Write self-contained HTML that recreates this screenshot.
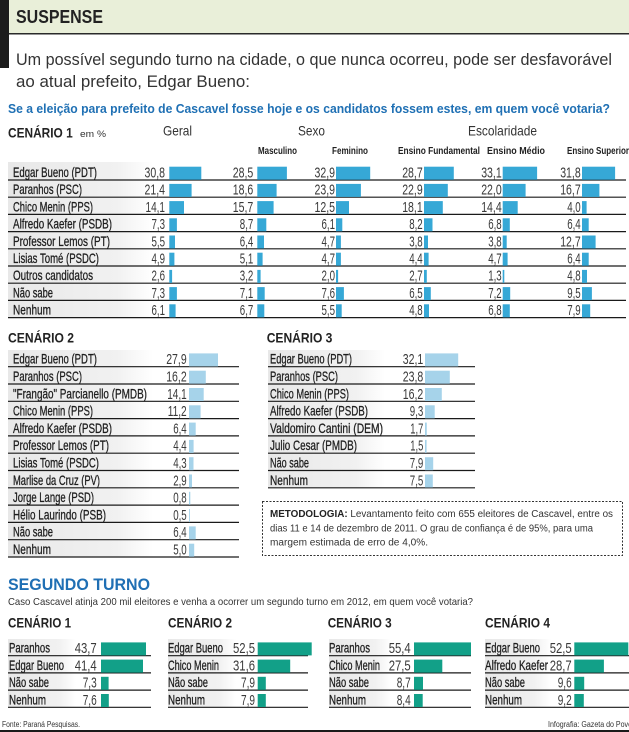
<!DOCTYPE html>
<html><head><meta charset="utf-8">
<style>
html,body{margin:0;padding:0;background:#fff;}
svg{display:block;}
text{font-family:"Liberation Sans",Arial,sans-serif;}
.lb{font-size:14px;fill:#1e1e1e;stroke:#1e1e1e;stroke-width:0.3px;}
.lt{font-size:14px;fill:#1e1e1e;stroke:#1e1e1e;stroke-width:0.3px;}
.nm{font-size:15px;fill:#3a3a3a;text-anchor:end;}
.hd{font-size:14px;font-weight:bold;fill:#222;}
.sh{font-size:10px;font-weight:bold;fill:#222;}
.b1{fill:#36a8d6;}
.b2{fill:#a6d3ea;}
.b3{fill:#12a088;}
</style></head>
<body>
<svg width="629" height="732" viewBox="0 0 629 732" xmlns="http://www.w3.org/2000/svg">
<defs>
<linearGradient id="gl" x1="0" x2="1" y1="0" y2="0">
<stop offset="0" stop-color="#e8e8e8"/><stop offset="0.75" stop-color="#f1f1f1"/><stop offset="1" stop-color="#ffffff"/>
</linearGradient>
</defs>
<!-- Header -->
<rect x="0" y="0" width="629" height="33" fill="#e9efd9"/>
<rect x="0" y="33" width="629" height="1.5" fill="#2a2a2a"/>
<rect x="0" y="0" width="9" height="68" fill="#1c1c1c"/>
<text x="16" y="23" font-size="18" font-weight="bold" fill="#222" textLength="87" lengthAdjust="spacingAndGlyphs">SUSPENSE</text>
<text x="16" y="65" font-size="17" fill="#333" textLength="596" lengthAdjust="spacingAndGlyphs">Um possível segundo turno na cidade, o que nunca ocorreu, pode ser desfavorável</text>
<text x="16" y="87" font-size="17" fill="#333" textLength="234" lengthAdjust="spacingAndGlyphs">ao atual prefeito, Edgar Bueno:</text>
<text x="8" y="113" font-size="13" font-weight="bold" fill="#1f70b4" textLength="602" lengthAdjust="spacingAndGlyphs">Se a eleição para prefeito de Cascavel fosse hoje e os candidatos fossem estes, em quem você votaria?</text>

<!-- Cenario 1 header -->
<text x="8" y="137.3" class="hd" textLength="64.7" lengthAdjust="spacingAndGlyphs">CENÁRIO 1</text>
<text x="80" y="137" font-size="9" fill="#333" textLength="26" lengthAdjust="spacingAndGlyphs">em %</text>
<text x="163" y="135.7" font-size="14" fill="#333" textLength="29" lengthAdjust="spacingAndGlyphs">Geral</text>
<text x="298" y="135.3" font-size="14" fill="#333" textLength="27" lengthAdjust="spacingAndGlyphs">Sexo</text>
<text x="468" y="135.3" font-size="14" fill="#333" textLength="69" lengthAdjust="spacingAndGlyphs">Escolaridade</text>
<text x="258" y="154" class="sh" textLength="39" lengthAdjust="spacingAndGlyphs">Masculino</text>
<text x="332" y="154" class="sh" textLength="36" lengthAdjust="spacingAndGlyphs">Feminino</text>
<text x="398" y="154" class="sh" textLength="82" lengthAdjust="spacingAndGlyphs">Ensino Fundamental</text>
<text x="487" y="154" class="sh" textLength="58" lengthAdjust="spacingAndGlyphs">Ensino Médio</text>
<text x="567" y="154" class="sh" textLength="62" lengthAdjust="spacingAndGlyphs">Ensino Superior</text>

<!-- Cenario 1 table -->
<rect x="8" y="162" width="145" height="156" fill="url(#gl)"/>
<path d="M8 180H626M8 197.2H626M8 214.4H626M8 231.6H626M8 248.8H626M8 266H626M8 283.2H626M8 300.4H626M8 317.6H626" stroke="#1a1a1a" stroke-width="1.2" fill="none"/>
<text x="13" y="177" class="lb" textLength="84" lengthAdjust="spacingAndGlyphs">Edgar Bueno (PDT)</text>
<text x="13" y="194.2" class="lb" textLength="69" lengthAdjust="spacingAndGlyphs">Paranhos (PSC)</text>
<text x="13" y="211.4" class="lb" textLength="80" lengthAdjust="spacingAndGlyphs">Chico Menin (PPS)</text>
<text x="13" y="228.6" class="lb" textLength="99" lengthAdjust="spacingAndGlyphs">Alfredo Kaefer (PSDB)</text>
<text x="13" y="245.8" class="lb" textLength="97" lengthAdjust="spacingAndGlyphs">Professor Lemos (PT)</text>
<text x="13" y="263" class="lb" textLength="86" lengthAdjust="spacingAndGlyphs">Lisias Tomé (PSDC)</text>
<text x="13" y="280.2" class="lb" textLength="80" lengthAdjust="spacingAndGlyphs">Outros candidatos</text>
<text x="13" y="297.4" class="lb" textLength="40" lengthAdjust="spacingAndGlyphs">Não sabe</text>
<text x="13" y="314.6" class="lb" textLength="38" lengthAdjust="spacingAndGlyphs">Nenhum</text>

<!-- Geral col: end 165, bar 169.3 -->
<g>
<text x="165" y="177.5" class="nm" textLength="20.5" lengthAdjust="spacingAndGlyphs">30,8</text><rect class="b1" x="169.3" y="166.7" width="32" height="13"/>
<text x="165" y="194.7" class="nm" textLength="20.5" lengthAdjust="spacingAndGlyphs">21,4</text><rect class="b1" x="169.3" y="183.9" width="22.3" height="13"/>
<text x="165" y="211.9" class="nm" textLength="19.5" lengthAdjust="spacingAndGlyphs">14,1</text><rect class="b1" x="169.3" y="201.1" width="14.7" height="13"/>
<text x="165" y="229.1" class="nm" textLength="13.5" lengthAdjust="spacingAndGlyphs">7,3</text><rect class="b1" x="169.3" y="218.3" width="7.6" height="13"/>
<text x="165" y="246.3" class="nm" textLength="13.5" lengthAdjust="spacingAndGlyphs">5,5</text><rect class="b1" x="169.3" y="235.5" width="5.7" height="13"/>
<text x="165" y="263.5" class="nm" textLength="13.5" lengthAdjust="spacingAndGlyphs">4,9</text><rect class="b1" x="169.3" y="252.7" width="5.1" height="13"/>
<text x="165" y="280.7" class="nm" textLength="13.5" lengthAdjust="spacingAndGlyphs">2,6</text><rect class="b1" x="169.3" y="269.9" width="2.8" height="13"/>
<text x="165" y="297.9" class="nm" textLength="13.5" lengthAdjust="spacingAndGlyphs">7,3</text><rect class="b1" x="169.3" y="287.1" width="7.6" height="13"/>
<text x="165" y="315.1" class="nm" textLength="13.5" lengthAdjust="spacingAndGlyphs">6,1</text><rect class="b1" x="169.3" y="304.3" width="6.3" height="13"/>
</g>
<!-- Masc: end 253.3, bar 257.3 -->
<g>
<text x="253.3" y="177.5" class="nm" textLength="20.5" lengthAdjust="spacingAndGlyphs">28,5</text><rect class="b1" x="257.3" y="166.7" width="29.6" height="13"/>
<text x="253.3" y="194.7" class="nm" textLength="20.5" lengthAdjust="spacingAndGlyphs">18,6</text><rect class="b1" x="257.3" y="183.9" width="19.3" height="13"/>
<text x="253.3" y="211.9" class="nm" textLength="20.5" lengthAdjust="spacingAndGlyphs">15,7</text><rect class="b1" x="257.3" y="201.1" width="16.3" height="13"/>
<text x="253.3" y="229.1" class="nm" textLength="13.5" lengthAdjust="spacingAndGlyphs">8,7</text><rect class="b1" x="257.3" y="218.3" width="9" height="13"/>
<text x="253.3" y="246.3" class="nm" textLength="13.5" lengthAdjust="spacingAndGlyphs">6,4</text><rect class="b1" x="257.3" y="235.5" width="6.7" height="13"/>
<text x="253.3" y="263.5" class="nm" textLength="13.5" lengthAdjust="spacingAndGlyphs">5,1</text><rect class="b1" x="257.3" y="252.7" width="5.3" height="13"/>
<text x="253.3" y="280.7" class="nm" textLength="13.5" lengthAdjust="spacingAndGlyphs">3,2</text><rect class="b1" x="257.3" y="269.9" width="3.3" height="13"/>
<text x="253.3" y="297.9" class="nm" textLength="13.5" lengthAdjust="spacingAndGlyphs">7,1</text><rect class="b1" x="257.3" y="287.1" width="7.4" height="13"/>
<text x="253.3" y="315.1" class="nm" textLength="13.5" lengthAdjust="spacingAndGlyphs">6,7</text><rect class="b1" x="257.3" y="304.3" width="7" height="13"/>
</g>
<!-- Fem: end 335, bar 336 -->
<g>
<text x="335" y="177.5" class="nm" textLength="20.5" lengthAdjust="spacingAndGlyphs">32,9</text><rect class="b1" x="336" y="166.7" width="34.2" height="13"/>
<text x="335" y="194.7" class="nm" textLength="20.5" lengthAdjust="spacingAndGlyphs">23,9</text><rect class="b1" x="336" y="183.9" width="24.9" height="13"/>
<text x="335" y="211.9" class="nm" textLength="20.5" lengthAdjust="spacingAndGlyphs">12,5</text><rect class="b1" x="336" y="201.1" width="13" height="13"/>
<text x="335" y="229.1" class="nm" textLength="13.5" lengthAdjust="spacingAndGlyphs">6,1</text><rect class="b1" x="336" y="218.3" width="6.3" height="13"/>
<text x="335" y="246.3" class="nm" textLength="13.5" lengthAdjust="spacingAndGlyphs">4,7</text><rect class="b1" x="336" y="235.5" width="4.9" height="13"/>
<text x="335" y="263.5" class="nm" textLength="13.5" lengthAdjust="spacingAndGlyphs">4,7</text><rect class="b1" x="336" y="252.7" width="4.9" height="13"/>
<text x="335" y="280.7" class="nm" textLength="13.5" lengthAdjust="spacingAndGlyphs">2,0</text><rect class="b1" x="336" y="269.9" width="2.1" height="13"/>
<text x="335" y="297.9" class="nm" textLength="13.5" lengthAdjust="spacingAndGlyphs">7,6</text><rect class="b1" x="336" y="287.1" width="7.9" height="13"/>
<text x="335" y="315.1" class="nm" textLength="13.5" lengthAdjust="spacingAndGlyphs">5,5</text><rect class="b1" x="336" y="304.3" width="5.7" height="13"/>
</g>
<!-- EF: end 422.7, bar 424 -->
<g>
<text x="422.7" y="177.5" class="nm" textLength="20.5" lengthAdjust="spacingAndGlyphs">28,7</text><rect class="b1" x="424" y="166.7" width="29.8" height="13"/>
<text x="422.7" y="194.7" class="nm" textLength="20.5" lengthAdjust="spacingAndGlyphs">22,9</text><rect class="b1" x="424" y="183.9" width="23.8" height="13"/>
<text x="422.7" y="211.9" class="nm" textLength="20.5" lengthAdjust="spacingAndGlyphs">18,1</text><rect class="b1" x="424" y="201.1" width="18.8" height="13"/>
<text x="422.7" y="229.1" class="nm" textLength="13.5" lengthAdjust="spacingAndGlyphs">8,2</text><rect class="b1" x="424" y="218.3" width="8.5" height="13"/>
<text x="422.7" y="246.3" class="nm" textLength="13.5" lengthAdjust="spacingAndGlyphs">3,8</text><rect class="b1" x="424" y="235.5" width="4" height="13"/>
<text x="422.7" y="263.5" class="nm" textLength="13.5" lengthAdjust="spacingAndGlyphs">4,4</text><rect class="b1" x="424" y="252.7" width="4.6" height="13"/>
<text x="422.7" y="280.7" class="nm" textLength="13.5" lengthAdjust="spacingAndGlyphs">2,7</text><rect class="b1" x="424" y="269.9" width="2.8" height="13"/>
<text x="422.7" y="297.9" class="nm" textLength="13.5" lengthAdjust="spacingAndGlyphs">6,5</text><rect class="b1" x="424" y="287.1" width="6.8" height="13"/>
<text x="422.7" y="315.1" class="nm" textLength="13.5" lengthAdjust="spacingAndGlyphs">4,8</text><rect class="b1" x="424" y="304.3" width="5" height="13"/>
</g>
<!-- EM: end 501.7, bar 502.7 -->
<g>
<text x="501.7" y="177.5" class="nm" textLength="20.5" lengthAdjust="spacingAndGlyphs">33,1</text><rect class="b1" x="502.7" y="166.7" width="34.4" height="13"/>
<text x="501.7" y="194.7" class="nm" textLength="20.5" lengthAdjust="spacingAndGlyphs">22,0</text><rect class="b1" x="502.7" y="183.9" width="22.9" height="13"/>
<text x="501.7" y="211.9" class="nm" textLength="20.5" lengthAdjust="spacingAndGlyphs">14,4</text><rect class="b1" x="502.7" y="201.1" width="15" height="13"/>
<text x="501.7" y="229.1" class="nm" textLength="13.5" lengthAdjust="spacingAndGlyphs">6,8</text><rect class="b1" x="502.7" y="218.3" width="7.1" height="13"/>
<text x="501.7" y="246.3" class="nm" textLength="13.5" lengthAdjust="spacingAndGlyphs">3,8</text><rect class="b1" x="502.7" y="235.5" width="4" height="13"/>
<text x="501.7" y="263.5" class="nm" textLength="13.5" lengthAdjust="spacingAndGlyphs">4,7</text><rect class="b1" x="502.7" y="252.7" width="4.9" height="13"/>
<text x="501.7" y="280.7" class="nm" textLength="13.5" lengthAdjust="spacingAndGlyphs">1,3</text><rect class="b1" x="502.7" y="269.9" width="1.6" height="13"/>
<text x="501.7" y="297.9" class="nm" textLength="13.5" lengthAdjust="spacingAndGlyphs">7,2</text><rect class="b1" x="502.7" y="287.1" width="7.5" height="13"/>
<text x="501.7" y="315.1" class="nm" textLength="13.5" lengthAdjust="spacingAndGlyphs">6,8</text><rect class="b1" x="502.7" y="304.3" width="7.1" height="13"/>
</g>
<!-- ES: end 580.7, bar 582 -->
<g>
<text x="580.7" y="177.5" class="nm" textLength="20.5" lengthAdjust="spacingAndGlyphs">31,8</text><rect class="b1" x="582" y="166.7" width="33.1" height="13"/>
<text x="580.7" y="194.7" class="nm" textLength="20.5" lengthAdjust="spacingAndGlyphs">16,7</text><rect class="b1" x="582" y="183.9" width="17.4" height="13"/>
<text x="580.7" y="211.9" class="nm" textLength="13.5" lengthAdjust="spacingAndGlyphs">4,0</text><rect class="b1" x="582" y="201.1" width="4.6" height="13"/>
<text x="580.7" y="229.1" class="nm" textLength="13.5" lengthAdjust="spacingAndGlyphs">6,4</text><rect class="b1" x="582" y="218.3" width="6.7" height="13"/>
<text x="580.7" y="246.3" class="nm" textLength="20.5" lengthAdjust="spacingAndGlyphs">12,7</text><rect class="b1" x="582" y="235.5" width="13.6" height="13"/>
<text x="580.7" y="263.5" class="nm" textLength="13.5" lengthAdjust="spacingAndGlyphs">6,4</text><rect class="b1" x="582" y="252.7" width="6.7" height="13"/>
<text x="580.7" y="280.7" class="nm" textLength="13.5" lengthAdjust="spacingAndGlyphs">4,8</text><rect class="b1" x="582" y="269.9" width="5" height="13"/>
<text x="580.7" y="297.9" class="nm" textLength="13.5" lengthAdjust="spacingAndGlyphs">9,5</text><rect class="b1" x="582" y="287.1" width="9.9" height="13"/>
<text x="580.7" y="315.1" class="nm" textLength="13.5" lengthAdjust="spacingAndGlyphs">7,9</text><rect class="b1" x="582" y="304.3" width="8.2" height="13"/>
</g>

<!-- Cenario 2 -->
<text x="8" y="342.7" class="hd" textLength="66" lengthAdjust="spacingAndGlyphs">CENÁRIO 2</text>
<rect x="8" y="350" width="145" height="207" fill="url(#gl)"/>
<path d="M8 366.7H239M8 384H239M8 401.3H239M8 418.6H239M8 435.9H239M8 453.2H239M8 470.5H239M8 487.8H239M8 505.1H239M8 522.4H239M8 539.7H239M8 557H239" stroke="#1a1a1a" stroke-width="1.2" fill="none"/>
<text x="13" y="363.7" class="lb" textLength="84" lengthAdjust="spacingAndGlyphs">Edgar Bueno (PDT)</text>
<text x="13" y="381" class="lb" textLength="69" lengthAdjust="spacingAndGlyphs">Paranhos (PSC)</text>
<text x="13" y="398.3" class="lb" textLength="134" lengthAdjust="spacingAndGlyphs">"Frangão" Parcianello (PMDB)</text>
<text x="13" y="415.6" class="lb" textLength="80" lengthAdjust="spacingAndGlyphs">Chico Menin (PPS)</text>
<text x="13" y="432.9" class="lb" textLength="99" lengthAdjust="spacingAndGlyphs">Alfredo Kaefer (PSDB)</text>
<text x="13" y="450.2" class="lb" textLength="96" lengthAdjust="spacingAndGlyphs">Professor Lemos (PT)</text>
<text x="13" y="467.5" class="lb" textLength="86" lengthAdjust="spacingAndGlyphs">Lisias Tomé (PSDC)</text>
<text x="13" y="484.8" class="lb" textLength="87" lengthAdjust="spacingAndGlyphs">Marlise da Cruz (PV)</text>
<text x="13" y="502.1" class="lb" textLength="81" lengthAdjust="spacingAndGlyphs">Jorge Lange (PSD)</text>
<text x="13" y="519.4" class="lb" textLength="93" lengthAdjust="spacingAndGlyphs">Hélio Laurindo (PSB)</text>
<text x="13" y="536.7" class="lb" textLength="40" lengthAdjust="spacingAndGlyphs">Não sabe</text>
<text x="13" y="554" class="lb" textLength="38" lengthAdjust="spacingAndGlyphs">Nenhum</text>
<g>
<text x="186.7" y="364.2" class="nm" textLength="20.5" lengthAdjust="spacingAndGlyphs">27,9</text><rect class="b2" x="189" y="353.4" width="29" height="13"/>
<text x="186.7" y="381.5" class="nm" textLength="20.5" lengthAdjust="spacingAndGlyphs">16,2</text><rect class="b2" x="189" y="370.7" width="16.8" height="13"/>
<text x="186.7" y="398.8" class="nm" textLength="19.5" lengthAdjust="spacingAndGlyphs">14,1</text><rect class="b2" x="189" y="388" width="14.7" height="13"/>
<text x="186.7" y="416.1" class="nm" textLength="19" lengthAdjust="spacingAndGlyphs">11,2</text><rect class="b2" x="189" y="405.3" width="11.6" height="13"/>
<text x="186.7" y="433.4" class="nm" textLength="13.5" lengthAdjust="spacingAndGlyphs">6,4</text><rect class="b2" x="189" y="422.6" width="6.7" height="13"/>
<text x="186.7" y="450.7" class="nm" textLength="13.5" lengthAdjust="spacingAndGlyphs">4,4</text><rect class="b2" x="189" y="439.9" width="4.6" height="13"/>
<text x="186.7" y="468" class="nm" textLength="13.5" lengthAdjust="spacingAndGlyphs">4,3</text><rect class="b2" x="189" y="457.2" width="4.5" height="13"/>
<text x="186.7" y="485.3" class="nm" textLength="13.5" lengthAdjust="spacingAndGlyphs">2,9</text><rect class="b2" x="189" y="474.5" width="3" height="13"/>
<text x="186.7" y="502.6" class="nm" textLength="13.5" lengthAdjust="spacingAndGlyphs">0,8</text><rect class="b2" x="189" y="491.8" width="1.3" height="13"/>
<text x="186.7" y="519.9" class="nm" textLength="13.5" lengthAdjust="spacingAndGlyphs">0,5</text><rect class="b2" x="189" y="509.1" width="0.9" height="13"/>
<text x="186.7" y="537.2" class="nm" textLength="13.5" lengthAdjust="spacingAndGlyphs">6,4</text><rect class="b2" x="189" y="526.4" width="6.7" height="13"/>
<text x="186.7" y="554.5" class="nm" textLength="13.5" lengthAdjust="spacingAndGlyphs">5,0</text><rect class="b2" x="189" y="543.7" width="5.2" height="13"/>
</g>

<!-- Cenario 3 -->
<text x="266.7" y="342.7" class="hd" textLength="65.7" lengthAdjust="spacingAndGlyphs">CENÁRIO 3</text>
<rect x="268" y="350" width="117" height="138" fill="url(#gl)"/>
<path d="M268 366.7H475M268 384H475M268 401.3H475M268 418.6H475M268 435.9H475M268 453.2H475M268 470.5H475M268 487.8H475" stroke="#1a1a1a" stroke-width="1.2" fill="none"/>
<text x="270" y="363.7" class="lb" textLength="82" lengthAdjust="spacingAndGlyphs">Edgar Bueno (PDT)</text>
<text x="270" y="381" class="lb" textLength="68" lengthAdjust="spacingAndGlyphs">Paranhos (PSC)</text>
<text x="270" y="398.3" class="lb" textLength="79" lengthAdjust="spacingAndGlyphs">Chico Menin (PPS)</text>
<text x="270" y="415.6" class="lb" textLength="98" lengthAdjust="spacingAndGlyphs">Alfredo Kaefer (PSDB)</text>
<text x="270" y="432.9" class="lb" textLength="113" lengthAdjust="spacingAndGlyphs">Valdomiro Cantini (DEM)</text>
<text x="270" y="450.2" class="lb" textLength="87" lengthAdjust="spacingAndGlyphs">Julio Cesar (PMDB)</text>
<text x="270" y="467.5" class="lb" textLength="39" lengthAdjust="spacingAndGlyphs">Não sabe</text>
<text x="270" y="484.8" class="lb" textLength="38" lengthAdjust="spacingAndGlyphs">Nenhum</text>
<g>
<text x="423.3" y="364.2" class="nm" textLength="20.5" lengthAdjust="spacingAndGlyphs">32,1</text><rect class="b2" x="425" y="353.4" width="33.2" height="13"/>
<text x="423.3" y="381.5" class="nm" textLength="20.5" lengthAdjust="spacingAndGlyphs">23,8</text><rect class="b2" x="425" y="370.7" width="24.8" height="13"/>
<text x="423.3" y="398.8" class="nm" textLength="20.5" lengthAdjust="spacingAndGlyphs">16,2</text><rect class="b2" x="425" y="388" width="16.8" height="13"/>
<text x="423.3" y="416.1" class="nm" textLength="13.5" lengthAdjust="spacingAndGlyphs">9,3</text><rect class="b2" x="425" y="405.3" width="9.7" height="13"/>
<text x="423.3" y="433.4" class="nm" textLength="13" lengthAdjust="spacingAndGlyphs">1,7</text><rect class="b2" x="425" y="422.6" width="1.8" height="13"/>
<text x="423.3" y="450.7" class="nm" textLength="13" lengthAdjust="spacingAndGlyphs">1,5</text><rect class="b2" x="425" y="439.9" width="1.6" height="13"/>
<text x="423.3" y="468" class="nm" textLength="13.5" lengthAdjust="spacingAndGlyphs">7,9</text><rect class="b2" x="425" y="457.2" width="8.2" height="13"/>
<text x="423.3" y="485.3" class="nm" textLength="13.5" lengthAdjust="spacingAndGlyphs">7,5</text><rect class="b2" x="425" y="474.5" width="7.8" height="13"/>
</g>

<!-- Metodologia -->
<rect x="262.5" y="501.5" width="360" height="54" fill="none" stroke="#333" stroke-width="1" stroke-dasharray="2,1.5"/>
<text x="270" y="517" font-size="10" fill="#333" textLength="343" lengthAdjust="spacingAndGlyphs"><tspan font-weight="bold" fill="#222">METODOLOGIA:</tspan> Levantamento feito com 655 eleitores de Cascavel, entre os</text>
<text x="270" y="531.5" font-size="10" fill="#333" textLength="323" lengthAdjust="spacingAndGlyphs">dias 11 e 14 de dezembro de 2011. O grau de confiança é de 95%, para uma</text>
<text x="270" y="545.5" font-size="10" fill="#333" textLength="158" lengthAdjust="spacingAndGlyphs">margem estimada de erro de 4,0%.</text>

<!-- Segundo turno -->
<text x="8" y="590" font-size="17" font-weight="bold" fill="#1f6fb4" textLength="142" lengthAdjust="spacingAndGlyphs">SEGUNDO TURNO</text>
<text x="8" y="605" font-size="10.5" fill="#333" textLength="465" lengthAdjust="spacingAndGlyphs">Caso Cascavel atinja 200 mil eleitores e venha a ocorrer um segundo turno em 2012, em quem você votaria?</text>
<text x="8" y="627.7" class="hd" font-size="13.5" textLength="63" lengthAdjust="spacingAndGlyphs">CENÁRIO 1</text>
<text x="168" y="627.7" class="hd" font-size="13.5" textLength="64" lengthAdjust="spacingAndGlyphs">CENÁRIO 2</text>
<text x="327.7" y="627.7" class="hd" font-size="13.5" textLength="64" lengthAdjust="spacingAndGlyphs">CENÁRIO 3</text>
<text x="485" y="627.7" class="hd" font-size="13.5" textLength="65" lengthAdjust="spacingAndGlyphs">CENÁRIO 4</text>

<rect x="8" y="639" width="68" height="68" fill="url(#gl)"/>
<rect x="168" y="639" width="68" height="68" fill="url(#gl)"/>
<rect x="329" y="639" width="62" height="68" fill="url(#gl)"/>
<rect x="485" y="639" width="66" height="68" fill="url(#gl)"/>
<path d="M8 655.7H151M8 672.9H151M8 690.1H151M8 707.3H151M168 655.7H308M168 672.9H308M168 690.1H308M168 707.3H308M329 655.7H471M329 672.9H471M329 690.1H471M329 707.3H471M485 655.7H629M485 672.9H629M485 690.1H629M485 707.3H629" stroke="#1a1a1a" stroke-width="1.2" fill="none"/>

<!-- T C1 -->
<text x="9" y="652.7" class="lt" textLength="41" lengthAdjust="spacingAndGlyphs">Paranhos</text>
<text x="9" y="669.9" class="lt" textLength="55" lengthAdjust="spacingAndGlyphs">Edgar Bueno</text>
<text x="9" y="687.1" class="lt" textLength="40" lengthAdjust="spacingAndGlyphs">Não sabe</text>
<text x="9" y="704.3" class="lt" textLength="37" lengthAdjust="spacingAndGlyphs">Nenhum</text>
<text x="96.7" y="653.2" class="nm" textLength="22" lengthAdjust="spacingAndGlyphs">43,7</text><rect class="b3" x="101" y="642.4" width="45" height="13"/>
<text x="96.7" y="670.4" class="nm" textLength="22" lengthAdjust="spacingAndGlyphs">41,4</text><rect class="b3" x="101" y="659.6" width="42" height="13"/>
<text x="96.7" y="687.6" class="nm" textLength="14" lengthAdjust="spacingAndGlyphs">7,3</text><rect class="b3" x="101" y="676.8" width="7.6" height="13"/>
<text x="96.7" y="704.8" class="nm" textLength="14" lengthAdjust="spacingAndGlyphs">7,6</text><rect class="b3" x="101" y="694" width="7.8" height="13"/>

<!-- T C2 -->
<text x="168" y="652.7" class="lt" textLength="55" lengthAdjust="spacingAndGlyphs">Edgar Bueno</text>
<text x="168" y="669.9" class="lt" textLength="51" lengthAdjust="spacingAndGlyphs">Chico Menin</text>
<text x="168" y="687.1" class="lt" textLength="40" lengthAdjust="spacingAndGlyphs">Não sabe</text>
<text x="168" y="704.3" class="lt" textLength="37" lengthAdjust="spacingAndGlyphs">Nenhum</text>
<text x="255" y="653.2" class="nm" textLength="22" lengthAdjust="spacingAndGlyphs">52,5</text><rect class="b3" x="257.7" y="642.4" width="54" height="13"/>
<text x="255" y="670.4" class="nm" textLength="22" lengthAdjust="spacingAndGlyphs">31,6</text><rect class="b3" x="257.7" y="659.6" width="32.5" height="13"/>
<text x="255" y="687.6" class="nm" textLength="14" lengthAdjust="spacingAndGlyphs">7,9</text><rect class="b3" x="257.7" y="676.8" width="8.1" height="13"/>
<text x="255" y="704.8" class="nm" textLength="14" lengthAdjust="spacingAndGlyphs">7,9</text><rect class="b3" x="257.7" y="694" width="8.1" height="13"/>

<!-- T C3 -->
<text x="329" y="652.7" class="lt" textLength="41" lengthAdjust="spacingAndGlyphs">Paranhos</text>
<text x="329" y="669.9" class="lt" textLength="51" lengthAdjust="spacingAndGlyphs">Chico Menin</text>
<text x="329" y="687.1" class="lt" textLength="40" lengthAdjust="spacingAndGlyphs">Não sabe</text>
<text x="329" y="704.3" class="lt" textLength="37" lengthAdjust="spacingAndGlyphs">Nenhum</text>
<text x="410.7" y="653.2" class="nm" textLength="22" lengthAdjust="spacingAndGlyphs">55,4</text><rect class="b3" x="414" y="642.4" width="57" height="13"/>
<text x="410.7" y="670.4" class="nm" textLength="22" lengthAdjust="spacingAndGlyphs">27,5</text><rect class="b3" x="414" y="659.6" width="28.3" height="13"/>
<text x="410.7" y="687.6" class="nm" textLength="14" lengthAdjust="spacingAndGlyphs">8,7</text><rect class="b3" x="414" y="676.8" width="9" height="13"/>
<text x="410.7" y="704.8" class="nm" textLength="14" lengthAdjust="spacingAndGlyphs">8,4</text><rect class="b3" x="414" y="694" width="8.7" height="13"/>

<!-- T C4 -->
<text x="485" y="652.7" class="lt" textLength="55" lengthAdjust="spacingAndGlyphs">Edgar Bueno</text>
<text x="485" y="669.9" class="lt" textLength="63" lengthAdjust="spacingAndGlyphs">Alfredo Kaefer</text>
<text x="485" y="687.1" class="lt" textLength="40" lengthAdjust="spacingAndGlyphs">Não sabe</text>
<text x="485" y="704.3" class="lt" textLength="37" lengthAdjust="spacingAndGlyphs">Nenhum</text>
<text x="571.7" y="653.2" class="nm" textLength="22" lengthAdjust="spacingAndGlyphs">52,5</text><rect class="b3" x="574.3" y="642.4" width="54" height="13"/>
<text x="571.7" y="670.4" class="nm" textLength="22" lengthAdjust="spacingAndGlyphs">28,7</text><rect class="b3" x="574.3" y="659.6" width="29.6" height="13"/>
<text x="571.7" y="687.6" class="nm" textLength="14" lengthAdjust="spacingAndGlyphs">9,6</text><rect class="b3" x="574.3" y="676.8" width="9.9" height="13"/>
<text x="571.7" y="704.8" class="nm" textLength="14" lengthAdjust="spacingAndGlyphs">9,2</text><rect class="b3" x="574.3" y="694" width="9.5" height="13"/>

<!-- Footer -->
<text x="2" y="727" font-size="8" fill="#333" textLength="78" lengthAdjust="spacingAndGlyphs">Fonte: Paraná Pesquisas.</text>
<text x="548" y="727" font-size="8" fill="#333" textLength="84" lengthAdjust="spacingAndGlyphs">Infografia: Gazeta do Povo</text>
<rect x="0" y="730" width="629" height="2" fill="#1a1a1a"/>
</svg>
</body></html>
